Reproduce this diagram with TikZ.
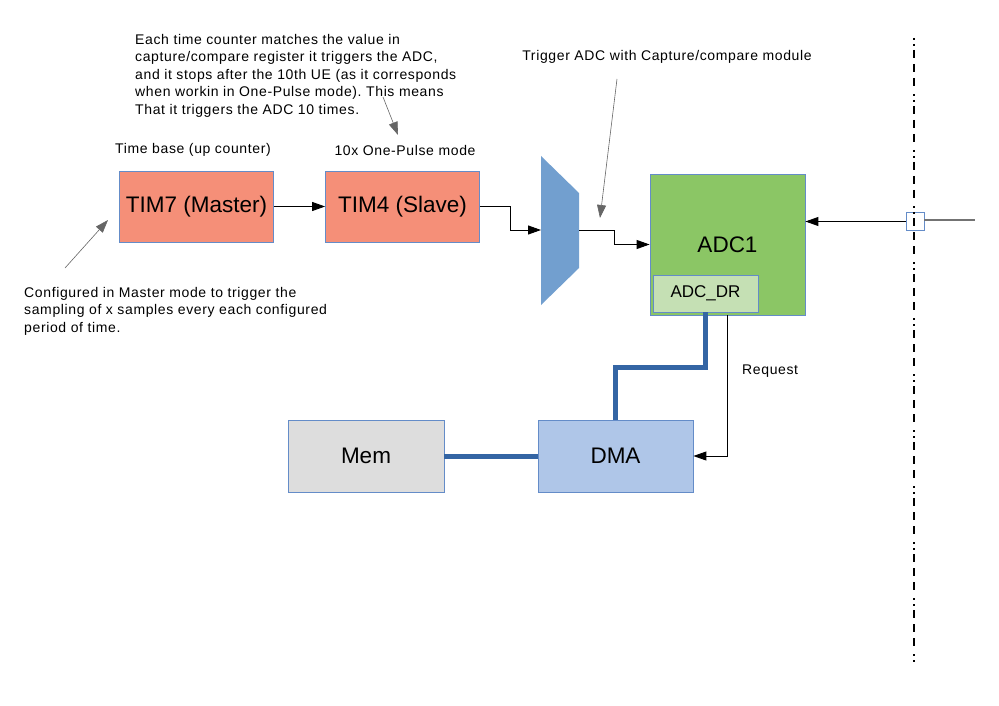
\documentclass[tikz,border=0pt]{standalone}
\usepackage{xcolor}
\usepackage{fontspec}
\setmainfont{Liberation Sans}
\newfontfamily\notefont[LetterSpace=4.5]{Liberation Sans}
\usepackage{tikz}
\usetikzlibrary{arrows.meta, positioning, calc}
\frenchspacing

\definecolor{timred}{RGB}{245,143,120}
\definecolor{adcgreen}{RGB}{139,198,101}
\definecolor{drgreen}{RGB}{197,224,180}
\definecolor{dmablue}{RGB}{175,198,232}
\definecolor{memgray}{RGB}{221,221,221}
\definecolor{muxblue}{RGB}{114,159,207}
\definecolor{edgeblue}{RGB}{100,140,200}
\definecolor{busblue}{RGB}{52,101,164}

\begin{document}
\begin{tikzpicture}
  [
    x=1pt, y=-1pt,
    >={Triangle[length=13pt,width=9pt]},
    Block/.style={draw=edgeblue, line width=0.8pt, inner sep=0pt, font=\fontsize{22.5}{26}\selectfont},
    Timer/.style={Block, fill=timred, minimum width=154pt, minimum height=71pt},
    Green/.style={Block, fill=adcgreen, minimum width=155pt, minimum height=141pt},
    Reg/.style={Block, fill=drgreen, minimum width=105pt, minimum height=37pt, font=\fontsize{17}{20}\selectfont},
    Blue/.style={Block, fill=dmablue, minimum width=155pt, minimum height=72pt},
    Gray/.style={Block, fill=memgray, minimum width=156pt, minimum height=72pt},
    Note/.style={inner sep=0pt, align=left, font=\notefont\fontsize{14}{17.5}\selectfont},
    Wire/.style={draw, line width=0.9pt},
    Hint/.style={draw=black!60, line width=0.6pt},
    Bus/.style={draw=busblue, line width=5pt}
  ]
  \useasboundingbox (0,0) rectangle (999,706);

  % Nodes (x, y)
  \node[Timer] (tim7) at(196.5, 206.5) {TIM7 (Master)};
  \node[Timer] (tim4) at(402.5, 206.5) {TIM4 (Slave)};
  \node[Green] (adc) at(727.5, 244.5) {ADC1};
  \node[Reg] (adcdr) at(705.5, 293.5) {ADC\_DR};
  \node[Blue] (dma) at(615.5, 456) {DMA};
  \node[Gray] (mem) at(366, 456) {Mem};
  \node[draw=edgeblue, line width=0.8pt, minimum size=18pt, inner sep=0pt] (port) at(915, 221.5) {};

  % Multiplexer
  \path [fill=muxblue] (541,156) -- (579,193) -- (579,268) -- (541,305) -- cycle;
  \coordinate (muxin) at(541, 230);
  \coordinate (muxout) at(579, 230);

  % Texts
  \node[Note] (tbase) at(193, 150) {Time base (up counter)};
  \node[Note] (pulse) at(405, 150) {10x One-Pulse mode};
  \node[Note] (trig) at(667, 57) {Trigger ADC with Capture/compare module};
  \node[Note, anchor=west] (req) at(742, 371) {Request};
  \node[Note, anchor=north west] (each) at(135, 34) {Each time counter matches the value in\\
    capture/compare register it triggers the ADC,\\
    and it stops after the 10th UE (as it corresponds\\
    when workin in One-Pulse mode). This means\\
    That it triggers the ADC 10 times.};
  \node[Note, anchor=north west] (conf) at(24, 287) {Configured in Master mode to trigger the\\
    sampling of x samples every each configured\\
    period of time.};

  % Lines
  % TIM7 -> TIM4
  \path [->, Wire] (tim7) -- (tim4);
  % TIM4 -> mux
  \path [->, Wire] (tim4.east) -- ++(31,0) |- (muxin);
  % mux -> ADC1
  \path [->, Wire] (muxout) -- ++(35,0) |- (adc.west);
  % input pin -> ADC1
  \path [->, Wire] (port.west) -- (adc.east |- port.west);
  \coordinate (pin) at(975, 220);
  \path [draw=black!55, line width=1.2pt] (port.east |- pin) -- (pin);
  % board edge
  \path [draw, line width=2.6pt, dash pattern=on 2pt off 4pt on 2pt off 4pt on 8pt off 6pt on 8pt off 6pt on 8pt off 8pt]
    (914, 38) -- (914, 664);
  % ADC_DR => DMA
  \path [Bus] (adcdr.south) -- ++(0,55) -| (dma.north);
  % DMA request
  \path [->, Wire] (adc.south) |- (dma.east);
  % DMA => Mem
  \path [Bus] (mem.east) -- (dma.west);
  % notes
  \coordinate (hint1) at(383, 97);
  \coordinate (tip1) at(398, 135);
  \coordinate (hint2) at(617, 79);
  \coordinate (tip2) at(600, 218);
  \coordinate (hint3) at(65, 268);
  \coordinate (tip3) at(108, 220);
  \path [->, Hint] (hint1) -- (tip1);
  \path [->, Hint] (hint2) -- (tip2);
  \path [->, Hint] (hint3) -- (tip3);

\end{tikzpicture}
\end{document}
